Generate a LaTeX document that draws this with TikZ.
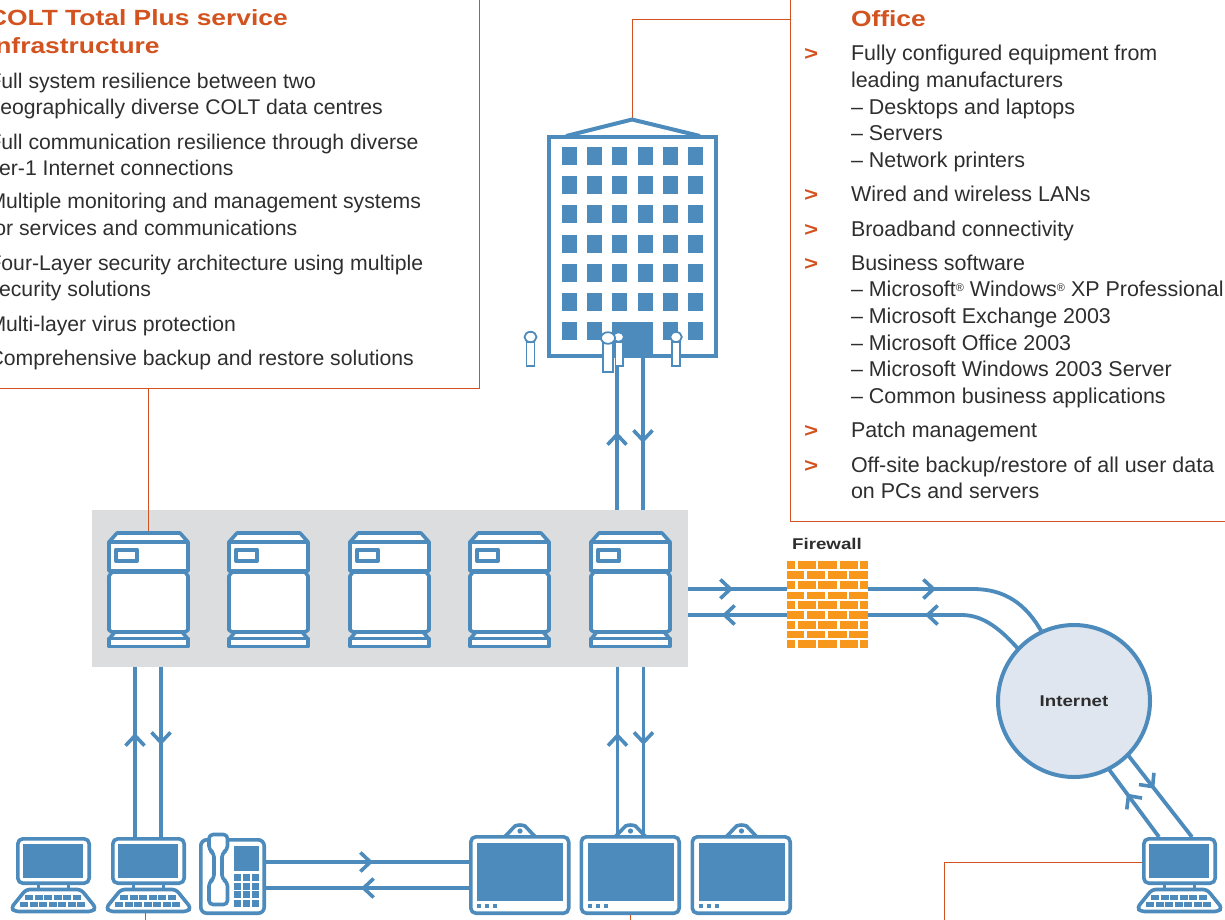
\documentclass[tikz,border=0pt]{standalone}
\usepackage{fontspec}
\setmainfont{Liberation Sans}
\newfontfamily\headfont[FakeStretch=1.2]{Liberation Sans Bold}
\usetikzlibrary{arrows.meta,decorations.markings}
\definecolor{netblue}{HTML}{4C8BBB}
\definecolor{rust}{HTML}{D2531F}
\definecolor{panelgrey}{HTML}{DCDDDE}
\definecolor{brick}{HTML}{F7981D}
\definecolor{globe}{HTML}{DFE6F0}
\definecolor{ink}{HTML}{2E2E2E}
\newcommand{\regmark}{\raisebox{5pt}{\fontsize{11}{11}\selectfont ®}}
\tikzset{
  icon/.style={draw=netblue,line width=3.6pt,fill=white,line join=round},
  solidblue/.style={fill=netblue,draw=none},
  link/.style={draw=netblue,line width=3.8pt},
  chev/.style={postaction={decorate,decoration={markings,mark=at position #1 with {\arrow[draw=netblue,line width=3.6pt,line cap=round]{Straight Barb[length=10pt,width=19pt]}}}}},
  callout/.style={draw=rust,line width=1pt},
  body/.style={inner sep=0pt,outer sep=0pt,anchor=base west,text=ink,font=\fontsize{21.2}{24}\selectfont},
  bodyr/.style={body,font=\fontsize{21.45}{24}\selectfont},
  head/.style={inner sep=0pt,outer sep=0pt,anchor=base west,text=rust,font=\headfont\fontsize{22}{24}\selectfont},
  mark glyph/.style={inner sep=0pt,outer sep=0pt,anchor=base west,text=rust,font=\headfont\fontsize{20}{24}\selectfont},
  tag/.style={inner sep=0pt,outer sep=0pt,text=ink,font=\headfont\fontsize{15.6}{16}\selectfont},
  person/.style={draw=netblue,line width=1.8pt,fill=white},
}
\newcommand{\pcicon}[2]{%
  \begin{scope}[shift={(#2,0)}]
    \draw[netblue,line width=3pt] (38,884)--(38,890) (68,884)--(68,890);
    \draw[icon,rounded corners=5pt] (17.8,838.8) rectangle (89.2,883.2);
    \fill[solidblue] (23,843.5) rectangle (83,878);
    \draw[icon,rounded corners=3.5pt] (26,889.5)--(81,889.5)--(96,908)--(92,911.5)--(15,911.5)--(11,908)--cycle;
    \foreach \k in {0,...,5} \fill[solidblue] (25+\k*9.6,895) rectangle +(8,5);
    \foreach \k in {0,...,6} \fill[solidblue] (20+\k*9.5,902) rectangle +(8,5);
    \node[inner sep=0pt,outer sep=0pt,minimum width=75pt,minimum height=48pt,anchor=north west] (#1) at (16,837) {};
    \node[inner sep=0pt,outer sep=0pt,minimum width=87pt,minimum height=25pt,anchor=north west] (#1-kb) at (10,888) {};
  \end{scope}}
\newcommand{\srvicon}[2]{%
  \begin{scope}[shift={(#2,531)}]
    \draw[icon] (2,11)--(10,2)--(73,2)--(81,11)--cycle;
    \draw[icon] (2,11) rectangle (81,40);
    \draw[icon,line width=4pt] (9,18.5) rectangle (30,30);
    \draw[icon] (5,41)--(78,41)--(81,45)--(81,99)--(78,101)--(5,101)--(2,99)--(2,45)--cycle;
    \draw[icon] (8,101)--(75,101)--(81,108)--(2,108)--cycle;
    \draw[icon] (2,107.5) rectangle (81,115.5);
    \node[inner sep=0pt,outer sep=0pt,minimum width=83pt,minimum height=117pt,anchor=north west] (#1) at (0,0) {};
  \end{scope}}
\newcommand{\padicon}[2]{%
  \begin{scope}[shift={(#2,0)}]
    \draw[icon] (36,836.5)--(46,826) to[out=20,in=160] (56,826)--(66,836.5);
    \fill[solidblue] (51,831) circle (2.6);
    \draw[icon,rounded corners=5pt] (1.8,836.8) rectangle (99.7,913.2);
    \fill[solidblue] (8,843) rectangle (94,901);
    \foreach \k in {0,1,2} \fill[solidblue] (8+\k*8,904) rectangle +(4,4);
    \node[inner sep=0pt,outer sep=0pt,minimum width=101pt,minimum height=80pt,anchor=north west] (#1) at (0,835) {};
  \end{scope}}
\begin{document}
\begin{tikzpicture}[x=1pt,y=-1pt]
\useasboundingbox (0,0) rectangle (1225,919);
\clip (0,0) rectangle (1225,919);
% anchors and panels
\fill[panelgrey] (92,510) rectangle (688,667);
\node[inner sep=0pt,outer sep=0pt,minimum width=596pt,minimum height=157pt,anchor=north west] (panel) at (92,510) {};
\node[callout,inner sep=0pt,outer sep=0pt,minimum width=499pt,minimum height=408pt,anchor=south east] (colt) at (479,388) {};
\node[callout,inner sep=0pt,outer sep=0pt,minimum width=450pt,minimum height=541pt,anchor=south west] (office) at (790.5,521) {};
\node[inner sep=0pt,outer sep=0pt,minimum width=171pt,minimum height=240pt,anchor=north west] (bldg) at (547,118) {};
\node[inner sep=0pt,outer sep=0pt,minimum width=81pt,minimum height=86pt,anchor=north west] (fw) at (787,561) {};
\node[draw=netblue,fill=globe,line width=4pt,circle,inner sep=0pt,outer sep=0pt,minimum size=152pt,tag] (net) at (1074,701) {Internet};
\node[tag] (fwlabel) at (827,544) {Firewall};
% callout leaders
\coordinate (officetap) at (790.5,19);
\draw[callout] (officetap) -| (bldg.north);
% building
\draw[netblue,line width=4pt,fill=white] (548.5,137) rectangle (716,356);
\draw[netblue,line width=4pt,line join=round] (566,136)--(632,119.5)--(700,136);
\foreach \yy in {147,176,205,235,264,293,322}
  \foreach \xx in {562,587,612,638,663,688}
    \fill[solidblue] (\xx,\yy) rectangle +(15,18);
\fill[solidblue] (612,322) rectangle (653,358);
% building links
\draw[link,chev=78pt] ([xshift=-15.5pt]bldg.south |- panel.north) -- ([xshift=-15.5pt]bldg.south);
\draw[link,chev=85pt] ([xshift=10.5pt]bldg.south) -- ([xshift=10.5pt]bldg.south |- panel.north);
% people
\draw[person] (526.5,342) rectangle (534.5,366);
\draw[person] (530.5,337) ellipse (6 and 5.2);
\draw[person] (615.5,342) rectangle (623,366);
\draw[person] (618.5,337) ellipse (5.5 and 4.8);
\draw[person] (603,343) rectangle (613,372);
\draw[person] (608,338) ellipse (7 and 5.8);
\draw[person] (672,342) rectangle (680,366);
\draw[person] (676,337) ellipse (5.8 and 5);
% servers
\srvicon{srv1}{107}
\srvicon{srv2}{227}
\srvicon{srv3}{348}
\srvicon{srv4}{468}
\srvicon{srv5}{589}
\draw[callout] (colt.south -| srv1.north) -- (srv1.north);
% firewall
\foreach \yy in {561,581,601,621,640}{
  \fill[brick] (787,\yy) rectangle +(8,7.5);
  \fill[brick] (797.5,\yy) rectangle +(18,7.5);
  \fill[brick] (818,\yy) rectangle +(19,7.5);
  \fill[brick] (839.5,\yy) rectangle +(18.5,7.5);
  \fill[brick] (860,\yy) rectangle +(8,7.5);}
\foreach \yy in {571,591.5,611,630.5}{
  \fill[brick] (787,\yy) rectangle +(17,7.5);
  \fill[brick] (807,\yy) rectangle +(18,7.5);
  \fill[brick] (828,\yy) rectangle +(18.5,7.5);
  \fill[brick] (849,\yy) rectangle +(19,7.5);}
% panel to firewall
\draw[link,chev=45pt] ([yshift=15pt]fw.west -| panel.east) -- ([yshift=15pt]fw.west);
\draw[link,chev=65pt] ([yshift=-11pt]fw.west) -- ([yshift=-11pt]fw.west -| panel.east);
% firewall to internet
\coordinate (bendup) at (973,589);
\coordinate (benddn) at (962,615);
\draw[link,chev=68pt] ([yshift=15pt]fw.east) -- (bendup) .. controls (1005,589) and (1026,604) .. (net.115);
\draw[link,chev=-57pt] (net.137) .. controls (1003,632) and (985,615) .. (benddn) -- ([yshift=-11pt]fw.east);
% computers
\pcicon{pca}{0}
\pcicon{pcb}{95}
\pcicon{pcc}{1126}
% panel to computer
\draw[link,chev=104pt] ([xshift=-13.5pt]pcb.north) -- ([xshift=-13.5pt]pcb.north |- panel.south);
\draw[link,chev=78pt] ([xshift=12.5pt]pcb.north |- panel.south) -- ([xshift=12.5pt]pcb.north);
% internet to computer
\draw[link,chev=54pt] ([xshift=-20.5pt]pcc.north) -- (net.297);
\draw[link,chev=43pt] (net.315) -- ([xshift=12.5pt]pcc.north);
% phone
\draw[icon,rounded corners=6pt] (200.8,839.8) rectangle (264.2,913.2);
\node[inner sep=0pt,outer sep=0pt,minimum width=67pt,minimum height=77pt,anchor=north west] (phone) at (199,838) {};
\draw[icon,rounded corners=4pt] (209,834.5)--(227.5,834.5)--(227.5,850)--(222,853)--(222,879)--(227.5,882)--(227.5,904.5)--(209,904.5)--(209,882)--(214,879)--(214,853)--(209,850)--cycle;
\fill[solidblue] (234,846) rectangle (259,871);
\foreach \yy in {874,883,891,900}
  \foreach \xx in {234,243,252}
    \fill[solidblue] (\xx,\yy) rectangle +(7,7);
% tablets
\padicon{pada}{469}
\padicon{padb}{579.5}
\padicon{padc}{690.5}
% panel to tablet
\draw[link,chev=102pt] ([xshift=-12.5pt]padb.north) -- ([xshift=-12.5pt]padb.north |- panel.south);
\draw[link,chev=78pt] ([xshift=13.5pt]padb.north |- panel.south) -- ([xshift=13.5pt]padb.north);
% phone to tablet
\draw[link,chev=107pt] ([yshift=13pt]phone.east |- pada.west) -- ([yshift=13pt]pada.west);
\draw[link,chev=108pt] ([yshift=-13pt]pada.west) -- ([yshift=-13pt]phone.east |- pada.west);
% bottom leaders
\coordinate (offa) at (145,925);
\coordinate (offb) at (630.5,925);
\coordinate (offc) at (944,925);
\draw[callout] ([xshift=-3.5pt]pcb-kb.south) -- (offa);
\draw[callout] ([xshift=0.5pt]padb.south) -- (offb);
\draw[callout] ([yshift=-1pt]pcc.west) -| (offc);
% left text
\node[head] (t1) at (-12,25) {COLT Total Plus service};
\node[head] (t2) at (-12,53) {infrastructure};
\node[body] (l1) at (-11.5,88) {Full system resilience between two};
\node[body] (l2) at (-11.5,114) {geographically diverse COLT data centres};
\node[body] (l3) at (-11.5,149) {Full communication resilience through diverse};
\node[body] (l4) at (-11.5,175) {tier-1 Internet connections};
\node[body] (l5) at (-11.5,208) {Multiple monitoring and management systems};
\node[body] (l6) at (-11.5,235) {for services and communications};
\node[body] (l7) at (-11.5,270) {Four-Layer security architecture using multiple};
\node[body] (l8) at (-11.5,296) {security solutions};
\node[body] (l9) at (-11.5,331) {Multi-layer virus protection};
\node[body] (l10) at (-11.5,365) {Comprehensive backup and restore solutions};
% right text
\node[head] (o0) at (851,26) {Office};
\foreach \yy in {60,201,236,270,437,472}
  \node[mark glyph] at (804,\yy) {>};
\node[bodyr] (o1) at (851,60) {Fully configured equipment from};
\node[bodyr] (o2) at (851,87) {leading manufacturers};
\node[bodyr] (o3) at (851,114) {– Desktops and laptops};
\node[bodyr] (o4) at (851,140) {– Servers};
\node[bodyr] (o5) at (851,167) {– Network printers};
\node[bodyr] (o6) at (851,201) {Wired and wireless LANs};
\node[bodyr] (o7) at (851,236) {Broadband connectivity};
\node[bodyr] (o8) at (851,270) {Business software};
\node[bodyr] (o9) at (851,296) {– Microsoft\regmark{} Windows\regmark{} XP Professional};
\node[bodyr] (o10) at (851,323) {– Microsoft Exchange 2003};
\node[bodyr] (o11) at (851,350) {– Microsoft Office 2003};
\node[bodyr] (o12) at (851,376) {– Microsoft Windows 2003 Server};
\node[bodyr] (o13) at (851,403) {– Common business applications};
\node[bodyr] (o14) at (851,437) {Patch management};
\node[bodyr] (o15) at (851,472) {Off-site backup/restore of all user data};
\node[bodyr] (o16) at (851,498) {on PCs and servers};
\end{tikzpicture}
\end{document}
